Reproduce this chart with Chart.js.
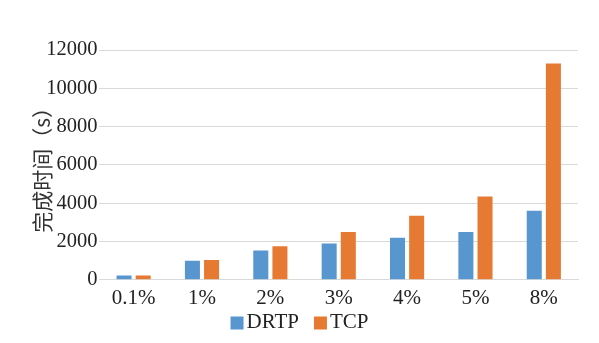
<!DOCTYPE html>
<html>
<head>
<meta charset="utf-8">
<script src="https://cdn.jsdelivr.net/npm/chart.js@4"></script>
<style>
  html, body { margin: 0; padding: 0; background: #fff; }
  #wrap { width: 599px; height: 343px; }
</style>
</head>
<body>
<div id="wrap"><canvas id="barchart"></canvas></div>
<script>
const labels = ['0.1%', '1%', '2%', '3%', '4%', '5%', '8%'];
const drtp = [220, 1000, 1530, 1900, 2200, 2500, 3600];
const tcp = [220, 1030, 1750, 2500, 3350, 4350, 11300];

const serif = "'Liberation Serif', 'Times New Roman', serif";

// legend drawn by hand: excel puts the text right next to the box
const bottomLegend = {
  id: 'bottomLegend',
  afterDraw(chart) {
    const c = chart.ctx;
    const items = chart.data.datasets;
    const box = 13, gap = 3, spacing = 15, y = 322;
    c.save();
    c.font = '21px ' + serif;
    let total = 0;
    items.forEach((d, i) => {
      total += box + gap + c.measureText(d.label).width;
      if (i < items.length - 1) total += spacing;
    });
    let x = chart.width / 2 - total / 2;
    c.textBaseline = 'middle';
    items.forEach((d) => {
      c.fillStyle = d.backgroundColor;
      c.fillRect(x, y - box / 2 + 1, box, box);
      x += box + gap;
      c.fillStyle = '#222';
      c.fillText(d.label, x, y);
      x += c.measureText(d.label).width + spacing;
    });
    c.restore();
  }
};

const ctx = document.getElementById('barchart').getContext('2d');

const myChart = new Chart(ctx, {
  type: 'bar',
  data: {
    labels: labels,
    datasets: [{
      label: 'DRTP',
      data: drtp,
      backgroundColor: '#5896cf'
    }, {
      label: 'TCP',
      data: tcp,
      backgroundColor: '#e77a32'
    }]
  },
  plugins: [bottomLegend],
  options: {
    responsive: true,
    maintainAspectRatio: false,
    animation: false,
    categoryPercentage: 0.56,
    barPercentage: 0.785,
    layout: {
      padding: { left: 29, right: 21, top: 50, bottom: 26 }
    },
    plugins: {
      tooltip: { enabled: false },
      legend: { display: false }
    },
    scales: {
      x: {
        grid: { display: false, drawTicks: false },
        border: { color: '#d9d9d9', width: 1 },
        ticks: {
          padding: 6,
          color: '#222',
          font: { family: serif, size: 21 }
        }
      },
      y: {
        min: 0,
        max: 12000,
        grid: { color: '#d9d9d9', drawTicks: false },
        border: { display: false },
        ticks: {
          stepSize: 2000,
          padding: 2,
          color: '#222',
          font: { family: serif, size: 20.5 },
          callback: (v) => String(v)
        },
        title: {
          display: true,
          text: '完成时间（s）',
          color: '#333',
          padding: { top: 0, bottom: -10 },
          font: { family: "'Noto Sans CJK SC', sans-serif", size: 21 }
        }
      }
    }
  }
});
</script>
</body>
</html>
